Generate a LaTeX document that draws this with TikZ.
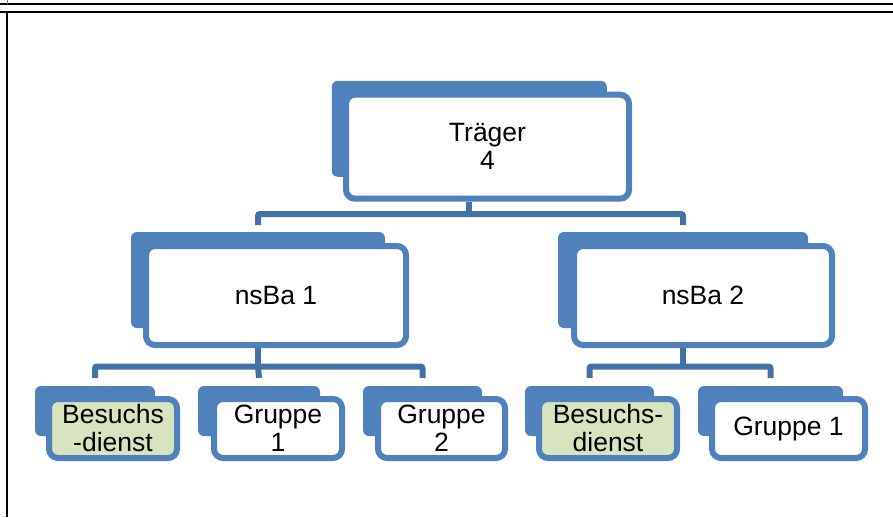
\documentclass[tikz,border=0pt]{standalone}
\usepackage{fontspec}
\setmainfont{Liberation Sans}
\usetikzlibrary{calc}
\definecolor{bk}{RGB}{79,129,189}
\definecolor{cn}{RGB}{68,113,164}
\definecolor{gr}{RGB}{215,228,189}
\begin{document}
\begin{tikzpicture}[x=1pt,y=-1pt,
  backbox/.style={fill=bk,draw=none,rounded corners=6pt,inner sep=0pt,outer sep=0pt},
  frontbox/.style={draw=bk,line width=6pt,fill=white,rounded corners=9pt,inner sep=0pt,align=center,
     font=\fontsize{26.5}{28}\selectfont},
  greenbox/.style={frontbox,fill=gr},
  conn/.style={draw=cn,line width=6pt,rounded corners=2pt},
  frame/.style={draw=black,line width=2pt}]
\useasboundingbox (0,0) rectangle (893,517);
% frame lines
\draw[frame] (0,4) -- (893,4);
\draw[frame] (0,11.8) -- (893,11.8);
\draw[frame] (7.3,11.8) -- (7.3,517);
\draw[draw=gray,line width=0.8pt] (7.3,0) -- (7.3,4);
% top
\node[backbox,minimum width=275pt,minimum height=96pt] (tB) at (469.3,128.8) {};
\node[frontbox,minimum width=283pt,minimum height=104pt] (t) at (487.5,146.7) {Träger\\4};
% second level
\node[backbox,minimum width=254pt,minimum height=96pt] (n1B) at (258,280) {};
\node[frontbox,minimum width=260pt,minimum height=99pt] (n1) at (276,295.5) {nsBa 1};
\node[backbox,minimum width=250pt,minimum height=96pt] (n2B) at (683,280) {};
\node[frontbox,minimum width=258pt,minimum height=99pt] (n2) at (703,295.5) {nsBa 2};
% third level
\node[backbox,minimum width=120pt,minimum height=50pt] (b1B) at (95,411) {};
\node[greenbox,minimum width=128pt,minimum height=59pt] (b1) at (113,428.5) {Besuchs\\-dienst};
\node[backbox,minimum width=122pt,minimum height=50pt] (g1B) at (259,411) {};
\node[frontbox,minimum width=128pt,minimum height=59pt] (g1) at (278,428.5) {Gruppe\\1};
\node[backbox,minimum width=119pt,minimum height=50pt] (g2B) at (422.5,411) {};
\node[frontbox,minimum width=127pt,minimum height=59pt] (g2) at (441.5,428.5) {Gruppe\\2};
\node[backbox,minimum width=129pt,minimum height=50pt] (b2B) at (589.5,411) {};
\node[greenbox,minimum width=138pt,minimum height=59pt] (b2) at (608,428.5) {Besuchs-\\dienst};
\node[backbox,minimum width=145pt,minimum height=50pt] (r1B) at (770.5,411) {};
\node[frontbox,minimum width=153pt,minimum height=59pt] (r1) at (788.5,428.5) {Gruppe 1};
% connectors
\coordinate (j0) at ($(t.south -| tB.south)+(0,12.3)$);
\draw[conn] (t.south -| tB.south) -- (j0);
\draw[conn] ($(n1B.north)+(0,-7)$) |- (j0) -| ($(n2B.north)+(0,-7)$);
\coordinate (j1) at ($(n1.south -| n1B.south)+(0,18.5)$);
\draw[conn] (n1.south -| n1B.south) -- (j1);
\draw[conn] ($(b1B.north)+(0,-8)$) |- (j1) -| ($(g2B.north)+(0,-8)$);
\draw[conn] (j1) -- ($(g1B.north)+(0,-8)$);
\coordinate (j2) at ($(n2.south -| n2B.south)+(0,18.5)$);
\draw[conn] (n2.south -| n2B.south) -- (j2);
\draw[conn] ($(b2B.north)+(0,-8)$) |- (j2) -| ($(r1B.north)+(0,-8)$);
\end{tikzpicture}
\end{document}
